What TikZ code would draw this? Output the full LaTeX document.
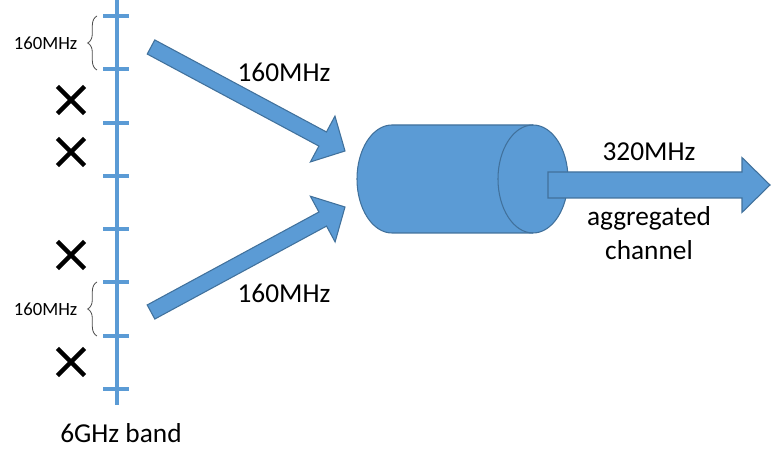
\documentclass[tikz,border=0pt]{standalone}
\usepackage{fontspec}
\setmainfont{Carlito}
\usepackage{tikz}
\usetikzlibrary{calc}
\usetikzlibrary{shapes.misc}
\usetikzlibrary{decorations.pathreplacing}
\definecolor{bandblue}{HTML}{5B9BD5}
\definecolor{edgeblue}{HTML}{41719C}

\tikzset{
  band/.style={draw=bandblue, line width=3pt},
  arrowbody/.style={fill=bandblue, draw=edgeblue, line width=0.8pt, line join=miter},
  xmark/.style={cross out, draw=black, line width=3.4pt, minimum size=17pt, inner sep=0pt},
  bigtext/.style={font=\fontsize{20.5}{25}\selectfont},
  smalltext/.style={font=\fontsize{14}{16}\selectfont},
  spanbrace/.style={decorate, decoration={brace, amplitude=7pt}, draw=black!70, line width=0.6pt}
}

\newcommand{\blockarrow}[5]{%
  \coordinate (#2-base) at ($(#2)!#5!(#1)$);
  \draw[arrowbody] ($(#1)!#3!90:(#2)$) -- ($(#2-base)!#3!90:(#2)$)
    -- ($(#2-base)!#4!90:(#2)$) -- (#2) -- ($(#2-base)!#4!-90:(#2)$)
    -- ($(#2-base)!#3!-90:(#2)$) -- ($(#1)!#3!-90:(#2)$) -- cycle;
}

\begin{document}
\begin{tikzpicture}[x=0.75pt,y=0.75pt]
\useasboundingbox (0,0) rectangle (771,467);

\coordinate (bandtop) at (117,467);
\coordinate (bandbot) at (117,62);
\draw[band] (bandtop) -- (bandbot);
\foreach \k in {0,...,7}
  \draw[band] (103,451-53.3*\k) -- (129,451-53.3*\k);

\draw[spanbrace] (97,397) -- (97,451);
\node[smalltext, anchor=east] (topwidth) at (82,424) {160MHz};
\draw[spanbrace] (97,131) -- (97,185);
\node[smalltext, anchor=east] (lowwidth) at (82,158) {160MHz};

\node[xmark] (busy1) at (71,367) {};
\node[xmark] (busy2) at (71,315) {};
\node[xmark] (busy3) at (71,212) {};
\node[xmark] (busy4) at (71,105) {};

\coordinate (uptail) at (151,420);
\coordinate (uptip) at (345,316);
\coordinate (lowtail) at (151,155);
\coordinate (lowtip) at (345,260);
\blockarrow{uptail}{uptip}{6pt}{19.5pt}{19pt}
\blockarrow{lowtail}{lowtip}{6pt}{19.5pt}{19pt}

\draw[arrowbody] (392,342) -- (533,342) arc (90:-90:35 and 54) -- (392,234)
  arc (270:90:35 and 54) -- cycle;
\draw[arrowbody, fill=none] (533,342) arc (90:270:35 and 54);

\coordinate (outtail) at (548,282);
\coordinate (outtip) at (770,282);
\blockarrow{outtail}{outtip}{9.75pt}{20.6pt}{21pt}

\node[bigtext] (upband) at (284,395) {160MHz};
\node[bigtext] (lowband) at (284,174) {160MHz};
\node[bigtext] (outband) at (649,315) {320MHz};
\node[bigtext, align=center] (outname) at (649,234) {aggregated\\channel};
\node[bigtext] (bandname) at (121,34) {6GHz band};
\end{tikzpicture}
\end{document}
